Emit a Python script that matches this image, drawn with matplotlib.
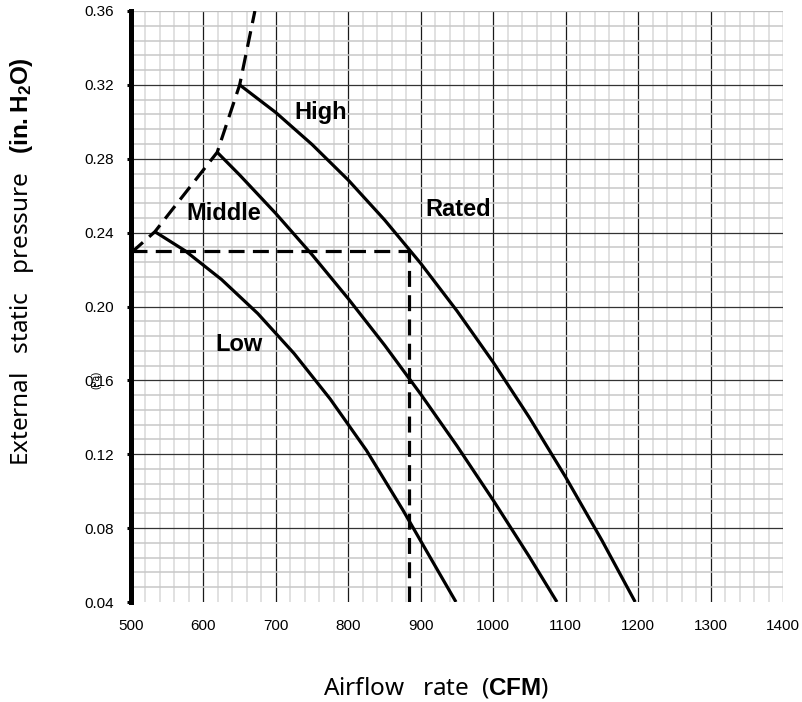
import matplotlib
matplotlib.use("Agg")
import matplotlib.pyplot as plt
from matplotlib.ticker import MultipleLocator

plt.rcParams["font.family"] = ["Liberation Sans", "DejaVu Sans"]
plt.rcParams["mathtext.fontset"] = "custom"
plt.rcParams["mathtext.rm"] = "Liberation Sans"
plt.rcParams["mathtext.bf"] = "Liberation Sans:bold"

# Fan curves: airflow (CFM) vs external static pressure (in.H2O)
high_cfm = [650, 700, 750, 800, 850, 900, 950, 1000, 1050, 1100, 1150, 1196]
high_p = [0.320, 0.305, 0.2877, 0.2684, 0.2469, 0.2233, 0.1976, 0.1698, 0.1398, 0.1076, 0.0734, 0.040]

mid_cfm = [619, 650, 700, 750, 800, 850, 900, 950, 1000, 1050, 1088]
mid_p = [0.2835, 0.2712, 0.2503, 0.228, 0.2042, 0.1791, 0.1525, 0.1245, 0.0951, 0.0644, 0.040]

low_cfm = [533, 575, 625, 675, 725, 775, 825, 875, 925, 948.6]
low_p = [0.2405, 0.2301, 0.2146, 0.1962, 0.1746, 0.1499, 0.1221, 0.090, 0.056, 0.040]

# Surge limit (dashed) through the start of each curve
limit_cfm = [500, 533, 619, 650, 671]
limit_p = [0.229, 0.2405, 0.2835, 0.320, 0.360]

# Rated operating point
rated_cfm = 884
rated_p = 0.230

x_ticks = [500, 600, 700, 800, 900, 1000, 1100, 1200, 1300, 1400]
y_ticks = [0.04, 0.08, 0.12, 0.16, 0.20, 0.24, 0.28, 0.32, 0.36]

fig = plt.figure(figsize=(8.02, 7.02), dpi=100)
ax = fig.add_axes([131 / 802, 1 - 602 / 702, (783 - 131) / 802, (602 - 11) / 702])

ax.set_xlim(500, 1400)
ax.set_ylim(0.04, 0.36)
ax.set_xticks(x_ticks)
ax.set_yticks(y_ticks)
ax.set_xticklabels([str(v) for v in x_ticks], fontsize=11)
ax.set_yticklabels([f"{v:.2f}" for v in y_ticks], fontsize=11)
ax.xaxis.set_minor_locator(MultipleLocator(20))
ax.yaxis.set_minor_locator(MultipleLocator(0.008))

ax.grid(which="minor", axis="x", color="#d9d9d9", linewidth=1.1)
ax.grid(which="minor", axis="y", color="#c8c8c8", linewidth=1.1)
ax.grid(which="major", axis="x", color="#1a1a1a", linewidth=0.9)
ax.grid(which="major", axis="y", color="#333333", linewidth=0.9)
ax.set_axisbelow(True)
ax.yaxis.get_major_ticks()[0].gridline.set_visible(False)
ax.yaxis.get_major_ticks()[-1].gridline.set_color("#bbbbbb")
ax.xaxis.get_major_ticks()[-1].gridline.set_color("#555555")

for side in ("top", "right", "bottom"):
    ax.spines[side].set_visible(False)
ax.spines["left"].set_linewidth(3.6)
ax.tick_params(axis="x", which="both", length=0, pad=12)
ax.tick_params(axis="y", which="major", length=3, width=2.2, pad=9)
ax.tick_params(axis="y", which="minor", length=0)

lw = 2.3
dash = (5, 2.6)
for xs, ys in ((high_cfm, high_p), (mid_cfm, mid_p), (low_cfm, low_p)):
    ax.plot(xs, ys, color="black", lw=lw, solid_capstyle="butt",
            solid_joinstyle="round", zorder=3)
ax.plot(limit_cfm, limit_p, color="black", lw=lw, dashes=dash, zorder=3)
ax.plot([500, rated_cfm], [rated_p, rated_p], color="black", lw=lw, dashes=dash, zorder=3)
ax.plot([rated_cfm, rated_cfm], [0.04, rated_p], color="black", lw=lw, dashes=dash, zorder=3)

lbl = dict(fontsize=17, fontweight="bold", ha="left", va="baseline", zorder=4)
ax.text(725, 0.3014, "High", **lbl)
ax.text(577, 0.247, "Middle", **lbl)
ax.text(906, 0.249, "Rated", **lbl)
ax.text(616, 0.176, "Low", **lbl)

fig.text(96 / 802, 1 - 380 / 702, "(Pa)", fontsize=7, rotation=90, ha="center", va="center")

fig.text(323 / 802, 1 - 694 / 702, r"Airflow   rate  (${\mathbf{CFM}}$)",
         fontsize=17.5, family=["Noto Sans", "DejaVu Sans"], ha="left", va="baseline")
fig.text(28 / 802, 1 - 466 / 702,
         r"External   static   pressure   ${\mathbf{(in.H_{2}O)}}$",
         fontsize=17.5, family=["Noto Sans", "DejaVu Sans"], rotation=90,
         ha="left", va="baseline", rotation_mode="anchor")

fig.savefig("out.png", dpi=100)
